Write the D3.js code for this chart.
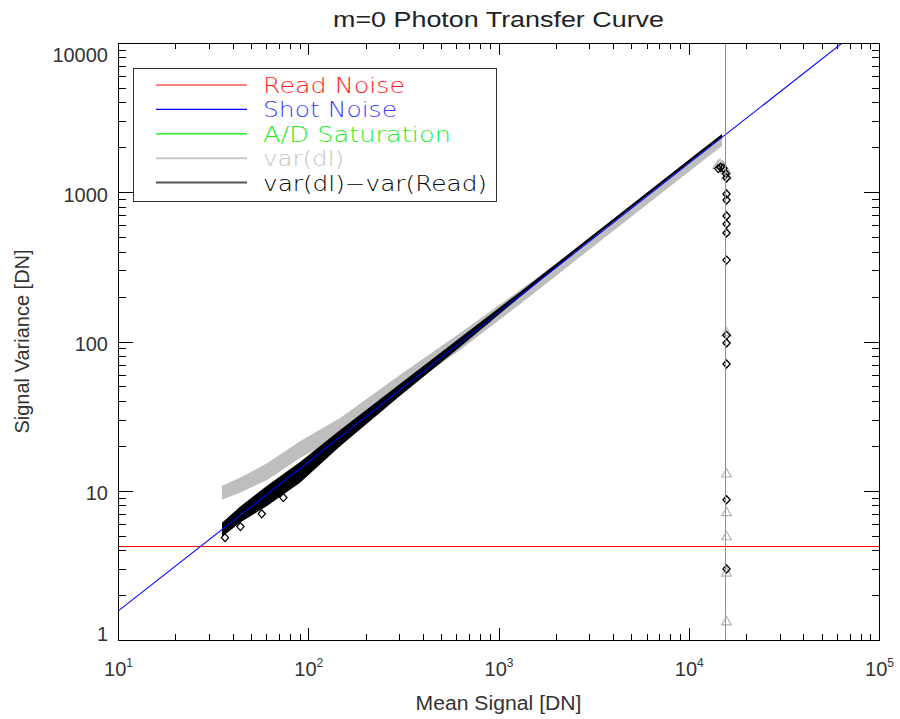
<!DOCTYPE html>
<html>
<head>
<meta charset="utf-8">
<script src="https://cdn.jsdelivr.net/npm/d3@7"></script>
<style>
  body { margin: 0; background: #fff; }
  svg { display: block; font-family: "Liberation Sans", Arial, sans-serif; }
</style>
</head>
<body>
<div id="chart"></div>
<script>
// values: envelope of the dense scatter
let meanSignal = [35.2, 43.7, 60.7, 90.5, 147, 303, 628, 1298, 2681, 5542, 11460, 14960];
let varDlHi    = [10.8, 12.2, 15.3, 21.5, 30.7, 59.6, 114, 221, 436, 901, 1861, 2457];
let varDlLo    = [8.7, 9.7, 11.8, 16.6, 23.3, 45.2, 87.7, 178, 368, 760, 1570, 2041];
let varCorrHi  = [6.1, 7.8, 10.8, 15.6, 25.5, 51.9, 106, 215, 443, 915, 1890, 2457];
let varCorrLo  = [4.9, 6.1, 7.9, 11.3, 19.9, 43.1, 91.9, 199, 423, 874, 1804, 2345];

// a few loose diamonds at the low end
let outMean = [36.5, 44, 57, 74];
let outVar  = [4.85, 5.75, 7.0, 9.0];

// points past A/D saturation
let satCorrMean = [14300, 14700, 15200, 15700, 15800, 15800, 15800, 15800, 15800, 15800, 15800, 15800, 15800, 15800, 15800, 15800];
let satCorrVar  = [1440, 1470, 1450, 1330, 1245, 973, 887, 693, 613, 533, 351, 110, 97.7, 70.7, 8.7, 2.99];
let satDlMean = [14200, 14600, 15100, 15600, 15800, 15800, 15800, 15800, 15800, 15800, 15800];
let satDlVar  = [1500, 1530, 1490, 1400, 1280, 114, 12.9, 7.1, 4.9, 2.8, 1.32];

let readNoise = 4.2;
let shotMean = [10, 100000];
let shotVar = [1.56, 15600];
let adSaturation = 15600;

let xMajor = [10, 100, 1000, 10000, 100000];
let xExp = ["1", "2", "3", "4", "5"];
let yMajor = [1, 10, 100, 1000, 10000];
let yLabels = ["1", "10", "100", "1000", "10000"];

let legendNames = ["Read Noise", "Shot Noise", "A/D Saturation", "var(dl)", "var(dl)\u2212var(Read)"];
let legendColors = ["#ff0000", "#0000ff", "#00ee00", "#c8c8c8", "#555555"];
let legendText = ["#ff2020", "#3a3aff", "#22ee22", "#c4c4c4", "#000000"];
let legendWidths = [142, 134, 188, 81, 224];

var width = 900, height = 719;
var margin = { top: 43, right: 21, bottom: 79, left: 118 };

var svg = d3.select("#chart").append("svg")
    .attr("width", width)
    .attr("height", height);

var x = d3.scaleLog()
    .domain([10, 100000])
    .range([margin.left, width - margin.right]);

var y = d3.scaleLog()
    .domain([1, 10000])
    .range([height - margin.bottom, margin.top]);

svg.append("clipPath").attr("id", "plotClip")
    .append("rect")
    .attr("x", margin.left).attr("y", margin.top)
    .attr("width", x.range()[1] - margin.left)
    .attr("height", y.range()[0] - margin.top);

var plot = svg.append("g").attr("clip-path", "url(#plotClip)");

// minor tick values
function minors(lo, hi) {
    let out = [];
    for (let d = lo; d < hi; d *= 10) {
        for (let k = 2; k <= 9; k++) out.push(d * k);
    }
    return out;
}

// bands of scatter
var idx = d3.range(meanSignal.length);

plot.append("path")
    .datum(idx)
    .attr("fill", "#bebebe")
    .attr("d", d3.area()
        .x(i => x(meanSignal[i]))
        .y0(i => y(varDlLo[i]))
        .y1(i => y(varDlHi[i])));

plot.append("path")
    .datum(idx)
    .attr("fill", "#000")
    .attr("d", d3.area()
        .x(i => x(meanSignal[i]))
        .y0(i => y(varCorrLo[i]))
        .y1(i => y(varCorrHi[i])));

// gray triangles past saturation
plot.selectAll(".tri")
    .data(d3.range(satDlMean.length))
    .enter().append("path")
    .attr("class", "tri")
    .attr("transform", i => "translate(" + x(satDlMean[i]) + "," + y(satDlVar[i]) + ")")
    .attr("d", d3.symbol().type(d3.symbolTriangle).size(40))
    .attr("fill", "none")
    .attr("stroke", "#b4b4b4")
    .attr("stroke-width", 1.2);

// black diamonds
var diamond = "M0,-4L3.6,0L0,4L-3.6,0Z";
var diaPts = d3.range(satCorrMean.length).map(i => [satCorrMean[i], satCorrVar[i]])
    .concat(d3.range(outMean.length).map(i => [outMean[i], outVar[i]]));
plot.selectAll(".dia")
    .data(diaPts)
    .enter().append("path")
    .attr("class", "dia")
    .attr("transform", d => "translate(" + x(d[0]) + "," + y(d[1]) + ")")
    .attr("d", diamond)
    .attr("fill", "none")
    .attr("stroke", "#000")
    .attr("stroke-width", 1.3);

// reference lines
plot.append("line")
    .attr("x1", x(10)).attr("x2", x(100000))
    .attr("y1", y(readNoise)).attr("y2", y(readNoise))
    .attr("stroke", "#ff0000").attr("stroke-width", 1)
    .attr("shape-rendering", "crispEdges");

plot.append("path")
    .datum([0, 1])
    .attr("fill", "none")
    .attr("stroke", "#0000ff")
    .attr("stroke-width", 1.1)
    .attr("d", d3.line().x(i => x(shotMean[i])).y(i => y(shotVar[i])));

plot.append("line")
    .attr("x1", x(adSaturation)).attr("x2", x(adSaturation))
    .attr("y1", y(1)).attr("y2", y(10000))
    .attr("stroke", "#22dd22").attr("stroke-width", 1)
    .attr("shape-rendering", "crispEdges");

// axes, ticks pointing inwards on all four sides
function styleAxis(g) {
    g.attr("shape-rendering", "crispEdges");
    g.select(".domain").attr("stroke", "#000");
    g.selectAll(".tick line").attr("stroke", "#000");
}

var xb = y.range()[0], xt = y.range()[1];
var yl = x.range()[0], yr = x.range()[1];

svg.append("g").attr("transform", "translate(0," + xb + ")")
    .call(d3.axisBottom(x).tickValues(minors(10, 100000)).tickSize(-6).tickFormat(""))
    .call(styleAxis);
var bottomAxis = svg.append("g").attr("transform", "translate(0," + xb + ")")
    .call(d3.axisBottom(x).tickValues(xMajor).tickSize(-12).tickFormat("").tickPadding(0))
    .call(styleAxis);
svg.append("g").attr("transform", "translate(0," + xt + ")")
    .call(d3.axisTop(x).tickValues(minors(10, 100000)).tickSize(-6).tickFormat(""))
    .call(styleAxis);
svg.append("g").attr("transform", "translate(0," + xt + ")")
    .call(d3.axisTop(x).tickValues(xMajor).tickSize(-12).tickFormat(""))
    .call(styleAxis);

svg.append("g").attr("transform", "translate(" + yl + ",0)")
    .call(d3.axisLeft(y).tickValues(minors(1, 10000)).tickSize(-7.5).tickFormat(""))
    .call(styleAxis);
var leftAxis = svg.append("g").attr("transform", "translate(" + yl + ",0)")
    .call(d3.axisLeft(y).tickValues(yMajor).tickSize(-15).tickPadding(10)
        .tickFormat((d, i) => yLabels[i]))
    .call(styleAxis);
svg.append("g").attr("transform", "translate(" + yr + ",0)")
    .call(d3.axisRight(y).tickValues(minors(1, 10000)).tickSize(-7.5).tickFormat(""))
    .call(styleAxis);
svg.append("g").attr("transform", "translate(" + yr + ",0)")
    .call(d3.axisRight(y).tickValues(yMajor).tickSize(-15).tickFormat(""))
    .call(styleAxis);

leftAxis.selectAll(".tick text")
    .attr("font-size", 20)
    .attr("fill", "#333")
    .attr("font-family", "Liberation Sans, Arial, sans-serif")
    .attr("dy", (d, i) => i === 0 ? "0em" : i === yMajor.length - 1 ? "0.9em" : "0.45em");

// x labels as 10 with superscript exponent
bottomAxis.selectAll(".tick").each(function (d, i) {
    var t = d3.select(this).append("text")
        .attr("y", 36)
        .attr("text-anchor", "middle")
        .attr("fill", "#333")
        .attr("font-size", 20)
        .attr("font-family", "Liberation Sans, Arial, sans-serif");
    t.append("tspan").text("10");
    t.append("tspan").attr("dy", -9).attr("font-size", 12).text(xExp[i]);
});

// titles
svg.append("text")
    .attr("x", (yl + yr) / 2).attr("y", 27)
    .attr("text-anchor", "middle")
    .attr("font-size", 22)
    .attr("textLength", 331)
    .attr("lengthAdjust", "spacingAndGlyphs")
    .attr("fill", "#222")
    .text("m=0 Photon Transfer Curve");

svg.append("text")
    .attr("x", (yl + yr) / 2).attr("y", 710)
    .attr("text-anchor", "middle")
    .attr("font-size", 20)
    .attr("textLength", 166)
    .attr("lengthAdjust", "spacingAndGlyphs")
    .attr("fill", "#333")
    .text("Mean Signal [DN]");

svg.append("text")
    .attr("transform", "translate(29," + (y(1) + y(10000)) / 2 + ") rotate(-90)")
    .attr("text-anchor", "middle")
    .attr("font-size", 20)
    .attr("fill", "#333")
    .text("Signal Variance [DN]");

// legend
var legend = svg.append("g");
legend.append("rect")
    .attr("x", 133).attr("y", 68)
    .attr("width", 363).attr("height", 133)
    .attr("fill", "#fff")
    .attr("stroke", "#333").attr("stroke-width", 1)
    .attr("shape-rendering", "crispEdges");

var rows = legend.selectAll(".row")
    .data(legendNames)
    .enter().append("g")
    .attr("class", "row")
    .attr("transform", (d, i) => "translate(0," + (85 + i * 24.4) + ")");

rows.append("line")
    .attr("x1", 156).attr("x2", 247)
    .attr("stroke", (d, i) => legendColors[i])
    .attr("stroke-width", (d, i) => i >= 3 ? 2 : 1.2);

rows.append("text")
    .attr("x", 263).attr("y", 8)
    .attr("font-family", "DejaVu Sans, sans-serif")
    .attr("font-weight", 300)
    .attr("font-size", 22)
    .attr("textLength", (d, i) => legendWidths[i])
    .attr("lengthAdjust", "spacingAndGlyphs")
    .attr("fill", (d, i) => legendText[i])
    .text(d => d);
</script>
</body>
</html>
